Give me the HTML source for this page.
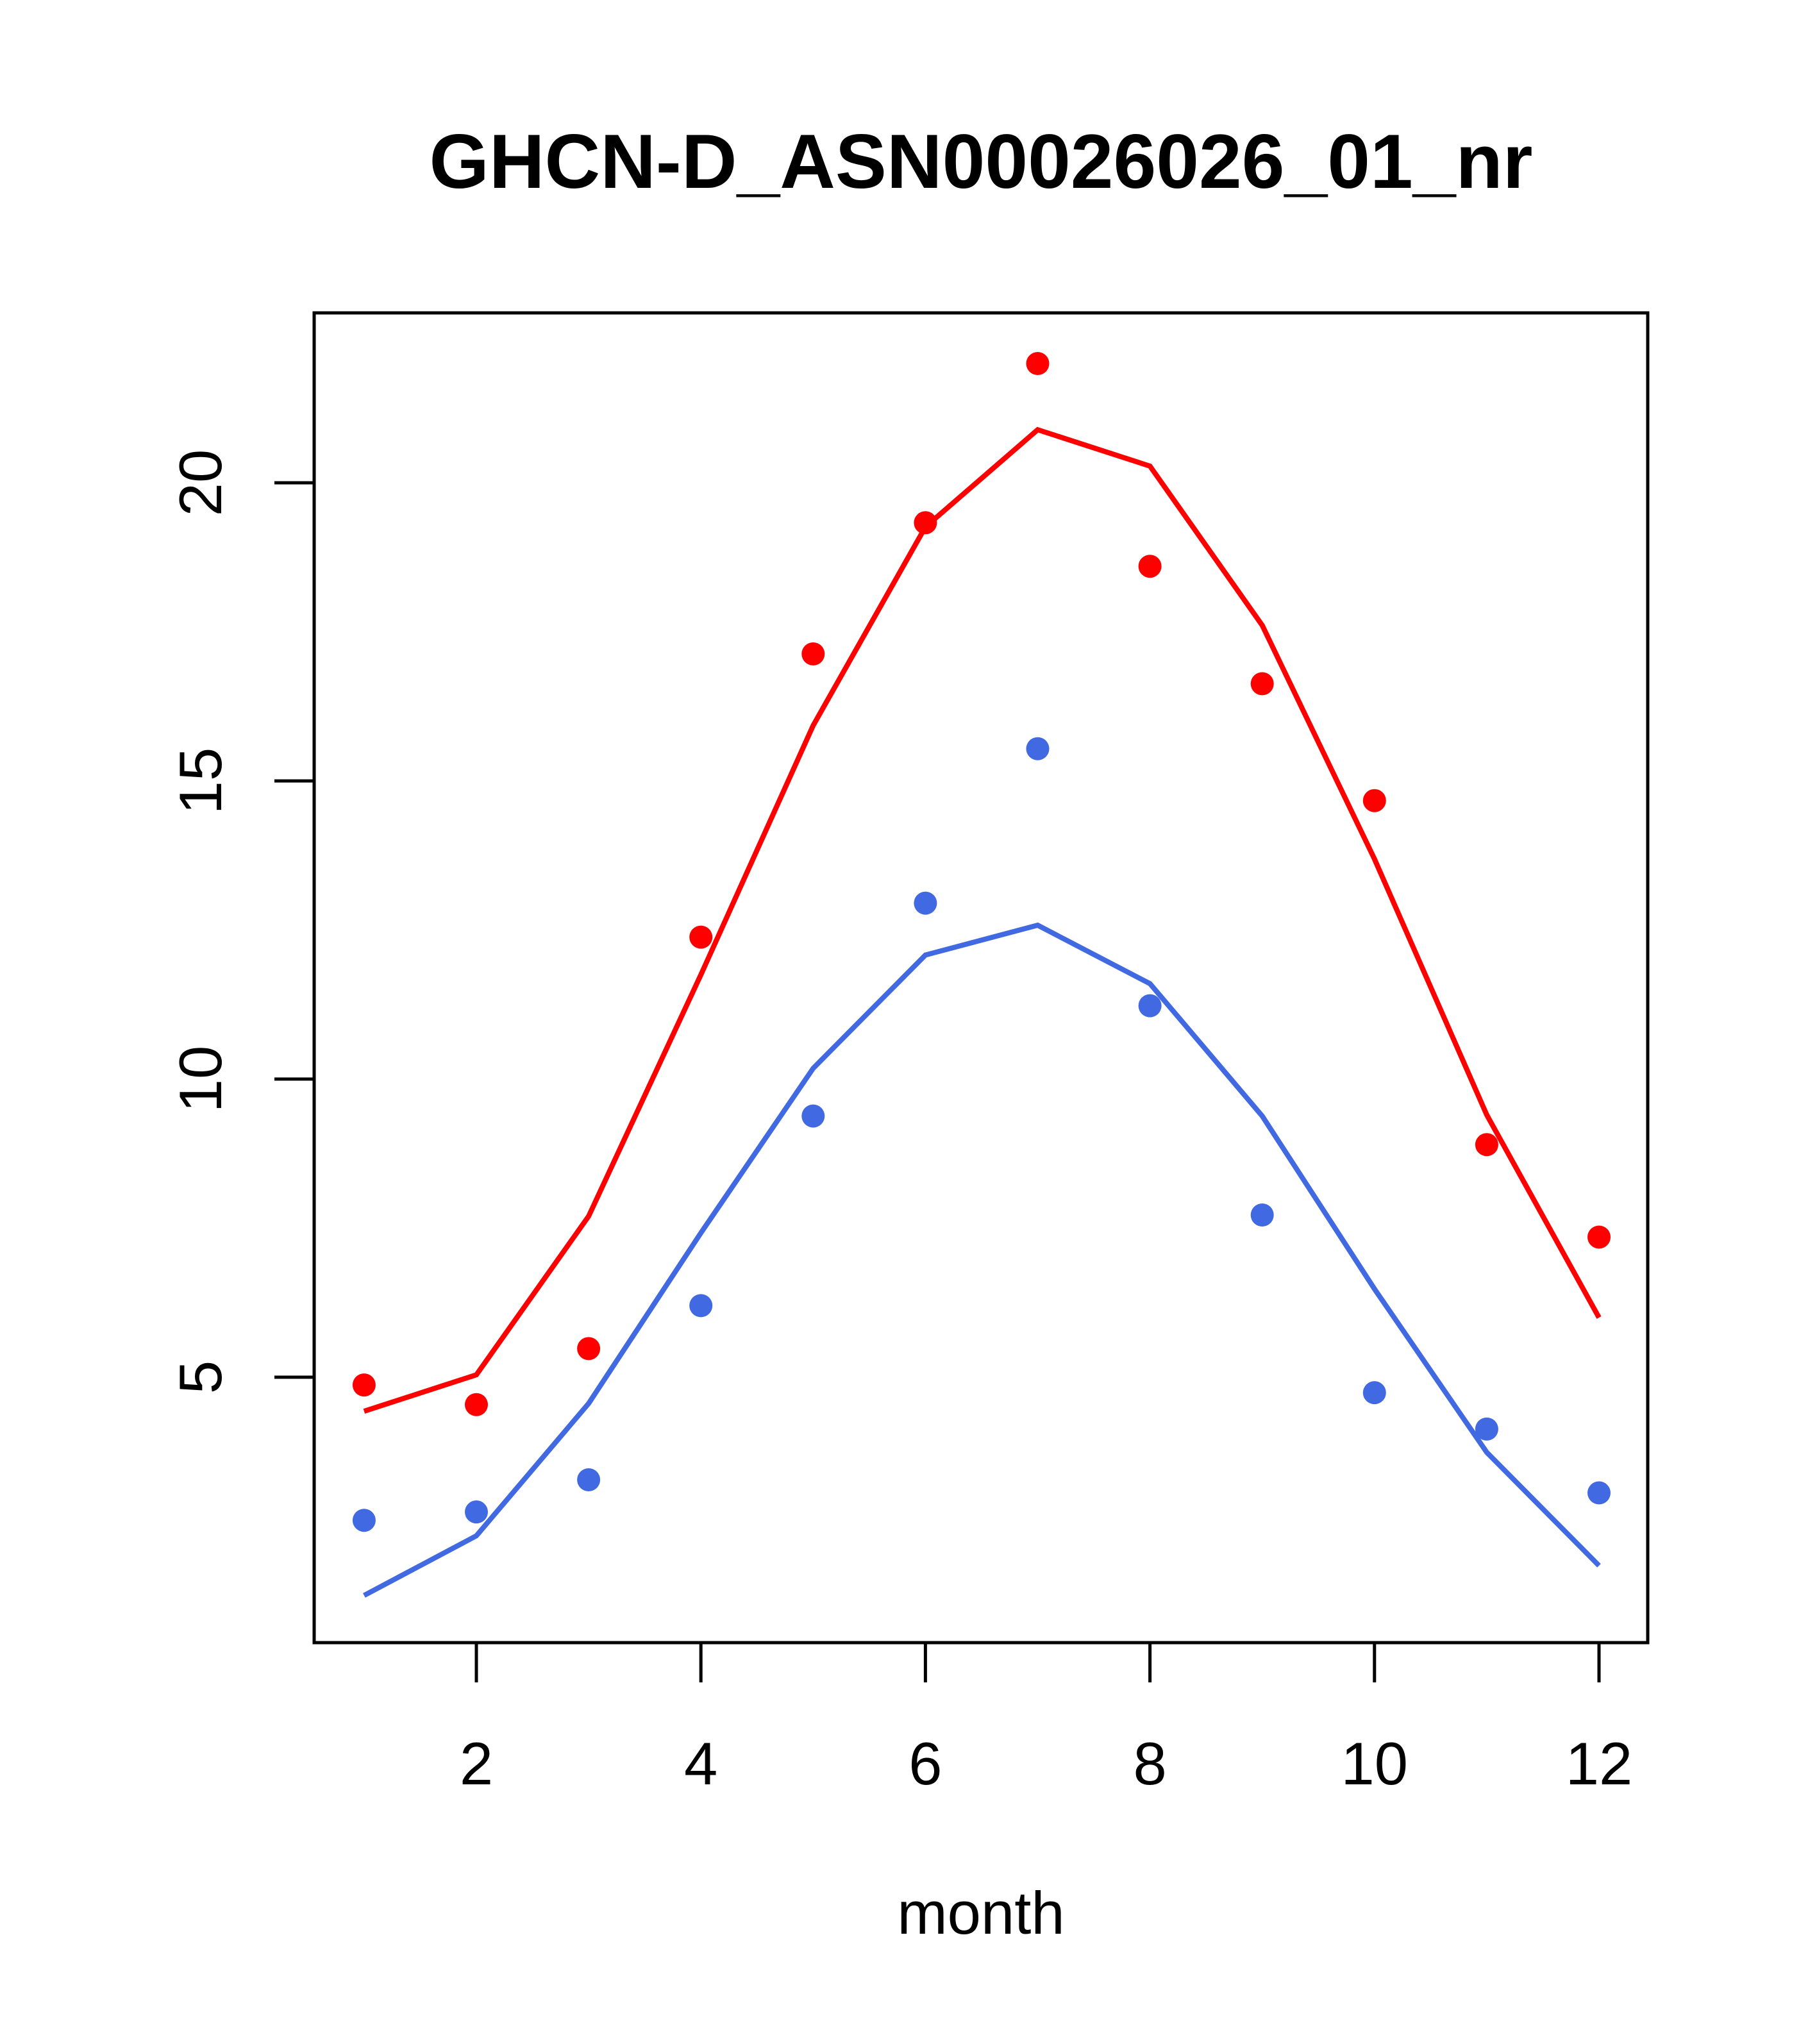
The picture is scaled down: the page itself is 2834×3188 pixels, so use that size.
<!DOCTYPE html>
<html><head><meta charset="utf-8"><style>
html,body{margin:0;padding:0;background:#fff}
svg{display:block}
text{font-family:"Liberation Sans",Arial,sans-serif}
</style></head><body>
<svg id="chart" width="2834" height="3188" viewBox="0 0 2834 3188" xmlns="http://www.w3.org/2000/svg">
<rect width="2834" height="3188" fill="#fff"/>
<text x="1530" y="293" text-anchor="middle" font-size="120" font-weight="bold">GHCN-D_ASN00026026_01_nr</text>
<rect x="490" y="488" width="2080" height="2074" fill="none" stroke="#000" stroke-width="5"/>
<g id="xaxis"></g>
<g id="yaxis"></g>
<g id="series"></g>
<text x="1530" y="3016" text-anchor="middle" font-size="94">month</text>
</svg>
<script>
const months = [1,2,3,4,5,6,7,8,9,10,11,12];
const redPoints = [4.87,4.54,5.48,12.38,17.13,19.33,22.0,18.6,16.63,14.67,8.9,7.35];
const redLine = [4.43,5.04,7.7,11.75,15.93,19.26,20.89,20.28,17.61,13.69,9.4,6.0];
const bluePoints = [2.6,2.74,3.28,6.2,9.38,12.95,15.54,11.23,7.72,4.74,4.13,3.06];
const blueLine = [1.34,2.34,4.56,7.42,10.18,12.08,12.58,11.6,9.38,6.48,3.74,1.84];
const xTicks = [2,4,6,8,10,12];
const yTicks = [5,10,15,20];

const NS = "http://www.w3.org/2000/svg";
function X(m){ return 743 + (m - 2) * 175.1; }
function Y(v){ return 2148 - (v - 5) * 93.0; }
function mk(tag, attrs, parent){
  const e = document.createElementNS(NS, tag);
  for (const k in attrs) e.setAttribute(k, attrs[k]);
  parent.appendChild(e);
  return e;
}
const xa = document.getElementById('xaxis');
const ya = document.getElementById('yaxis');
const sr = document.getElementById('series');

xTicks.forEach(t => {
  const l = mk('line', {x1: X(t), x2: X(t), y1: 2562, y2: 2624, stroke: '#000', 'stroke-width': 5}, xa);
  
  
  const tx = mk('text', {x: X(t), y: 2783, 'text-anchor': 'middle', 'font-size': 94}, xa);
  tx.textContent = t;
  
  
});
yTicks.forEach(t => {
  const l = mk('line', {x1: 428, x2: 490, y1: Y(t), y2: Y(t), stroke: '#000', 'stroke-width': 5}, ya);
  
  
  const tx = mk('text', {x: 0, y: 0, 'text-anchor': 'middle', 'font-size': 94, transform: 'translate(345,' + Y(t) + ') rotate(-90)'}, ya);
  tx.textContent = t;
  
  
});

function drawLine(vals, color, name){
  const pts = vals.map((v, i) => X(months[i]) + ',' + Y(v)).join(' ');
  const p = mk('polyline', {points: pts, fill: 'none', stroke: color, 'stroke-width': 8}, sr);
  
  
}
function drawPoints(vals, color, name){
  vals.forEach((v, i) => {
    const c = mk('circle', {cx: X(months[i]), cy: Y(v), r: 18, fill: color}, sr);
    
    
  });
}
drawLine(redLine, '#ff0000', 'red-line');
drawLine(blueLine, '#4169e1', 'blue-line');
drawPoints(redPoints, '#ff0000', 'red-point');
drawPoints(bluePoints, '#4169e1', 'blue-point');
</script>
</body></html>
